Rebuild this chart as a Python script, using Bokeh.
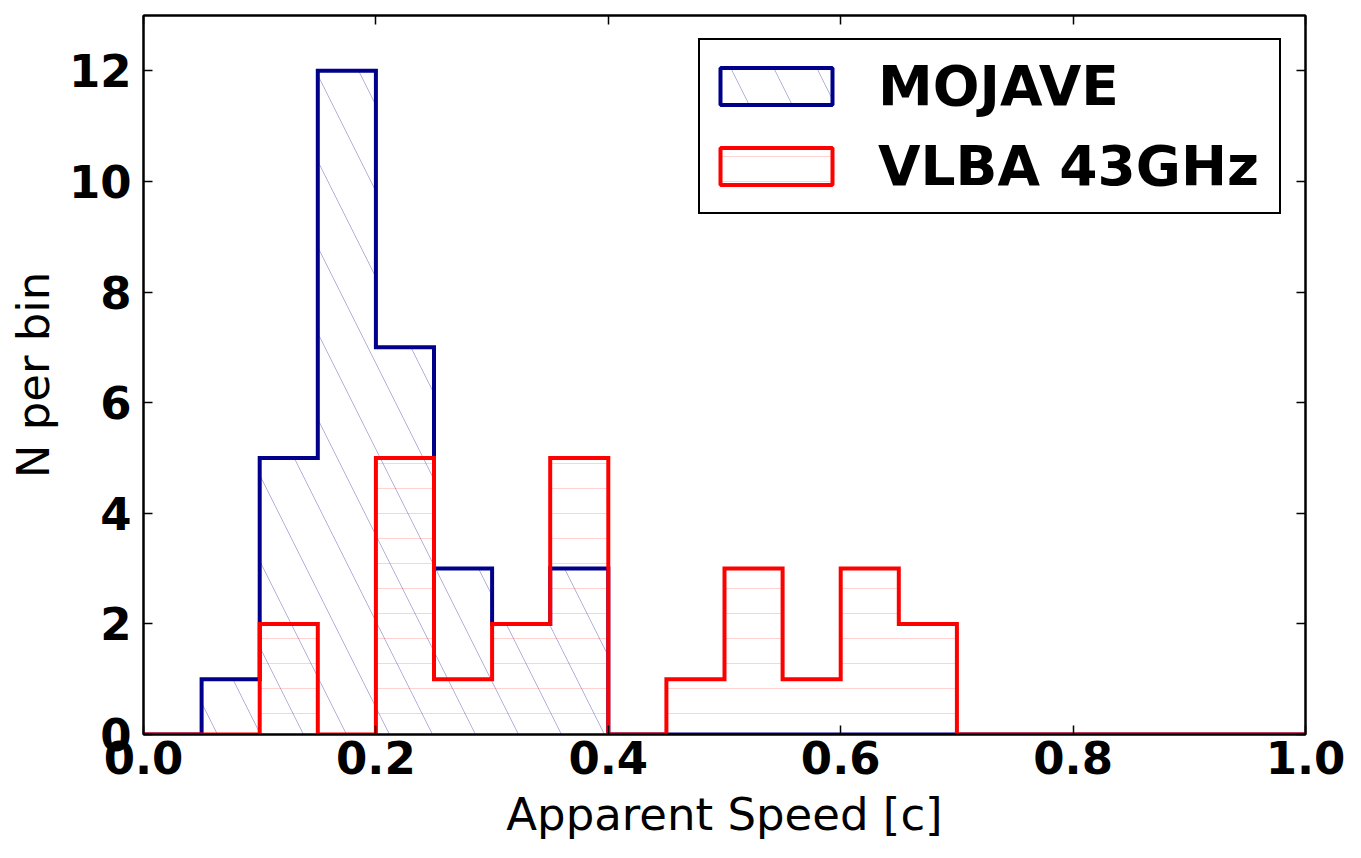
import numpy as np
from bokeh.plotting import figure
from bokeh.models import (ColumnDataSource, LinearAxis, Legend, LegendItem,
                          FixedTicker, Range1d)
from bokeh.embed import file_html
from bokeh.resources import INLINE

# Histogram data: 0.05-wide bins of apparent speed from 0 to 1 c
bin_edges = [round(0.05 * i, 2) for i in range(21)]
mojave_counts = [0, 1, 5, 12, 7, 3, 2, 3, 0, 0, 0, 0, 0, 0, 0, 0, 0, 0, 0, 0]
vlba_counts = [0, 0, 2, 0, 5, 1, 2, 5, 0, 1, 3, 1, 3, 2, 0, 0, 0, 0, 0, 0]
series_names = ["MOJAVE", "VLBA 43GHz"]
x_ticks = [0.0, 0.2, 0.4, 0.6, 0.8, 1.0]
y_ticks = [0, 2, 4, 6, 8, 10, 12]

BLUE = "#00008b"
RED = "#ff0000"
FONT = "DejaVu Sans"


def step_outline(edges, counts):
    """Outline of a step histogram: up and down the bar envelope."""
    edges = np.asarray(edges, dtype=float)
    counts = np.asarray(counts, dtype=float)
    xs = np.concatenate([[edges[0]], np.repeat(edges[1:-1], 2), [edges[-1]]])
    ys = np.repeat(counts, 2)
    xs = np.concatenate([[edges[0]], xs, [edges[-1]]])
    ys = np.concatenate([[0.0], ys, [0.0]])
    return xs, ys


p = figure(width=1361, height=858, output_backend="svg", toolbar_location=None,
           x_range=Range1d(0, 1), y_range=Range1d(0, 13),
           min_border_left=143, min_border_right=56,
           min_border_top=15, min_border_bottom=124)
p.xaxis.visible = False
p.yaxis.visible = False
p.grid.visible = False
p.outline_line_color = "black"
p.outline_line_width = 2
p.background_fill_color = "white"
p.border_fill_color = "white"

series = [
    (mojave_counts, BLUE, "\\", 86, 0.3),
    (vlba_counts, RED, "-", 25, 0.18),
]

legend_items = []
for name, (counts, color, pattern, scale, halpha) in zip(series_names, series):
    src = ColumnDataSource(dict(left=bin_edges[:-1], right=bin_edges[1:],
                                top=counts, bottom=[0] * len(counts)))
    p.quad(left="left", right="right", top="top", bottom="bottom", source=src,
           fill_color=None, line_color=None,
           hatch_pattern=pattern, hatch_color=color, hatch_alpha=halpha,
           hatch_scale=scale, hatch_weight=1)
    xs, ys = step_outline(bin_edges, counts)
    p.line(xs, ys, line_color=color, line_width=4, line_join="miter")
    # swatch used only by the legend (NaN extent, so nothing is drawn in the plot)
    swatch = p.quad(left=[np.nan], right=[np.nan], top=[np.nan], bottom=[np.nan],
                    fill_color=None, line_color=color, line_width=4,
                    hatch_pattern=pattern, hatch_color=color, hatch_alpha=halpha,
                    hatch_scale=scale, hatch_weight=1)
    legend_items.append(LegendItem(label=name, renderers=[swatch]))


def style_axis(ax, labels=True):
    ax.axis_line_color = "black"
    ax.axis_line_width = 2
    ax.major_tick_in = 9
    ax.major_tick_out = 0
    ax.major_tick_line_color = "black"
    ax.major_tick_line_width = 1.5
    ax.minor_tick_in = 0
    ax.minor_tick_out = 0
    if labels:
        ax.major_label_text_font = FONT
        ax.major_label_text_font_size = "45px"
        ax.major_label_text_font_style = "bold"
        ax.major_label_text_color = "black"
        ax.axis_label_text_font = FONT
        ax.axis_label_text_font_size = "45px"
        ax.axis_label_text_font_style = "normal"
        ax.axis_label_text_color = "black"
    else:
        ax.major_label_text_font_size = "0px"
        ax.major_label_text_alpha = 0


xb = LinearAxis(axis_label="Apparent Speed [c]", ticker=FixedTicker(ticks=x_ticks))
style_axis(xb)
xb.major_label_standoff = 6
xb.axis_label_standoff = 11
xb.major_label_overrides = {v: f"{v:.1f}" for v in x_ticks}
p.add_layout(xb, "below")

yl = LinearAxis(axis_label="N per bin", ticker=FixedTicker(ticks=y_ticks))
style_axis(yl)
yl.major_label_standoff = 12
yl.axis_label_standoff = 6
p.add_layout(yl, "left")

xt = LinearAxis(ticker=FixedTicker(ticks=x_ticks))
style_axis(xt, labels=False)
p.add_layout(xt, "above")

yr = LinearAxis(ticker=FixedTicker(ticks=y_ticks))
style_axis(yr, labels=False)
p.add_layout(yr, "right")

legend = Legend(items=legend_items, location=(555, 520),
                label_text_font=FONT, label_text_font_size="55px",
                label_text_font_style="bold", label_text_color="black",
                glyph_width=140, glyph_height=46, label_standoff=32,
                label_width=395, label_height=80,
                padding=6, spacing=0,
                border_line_color="black", border_line_width=2,
                border_line_alpha=1,
                background_fill_color="white", background_fill_alpha=1)
p.add_layout(legend, "center")

open("out.html", "w").write(file_html(p, INLINE))
